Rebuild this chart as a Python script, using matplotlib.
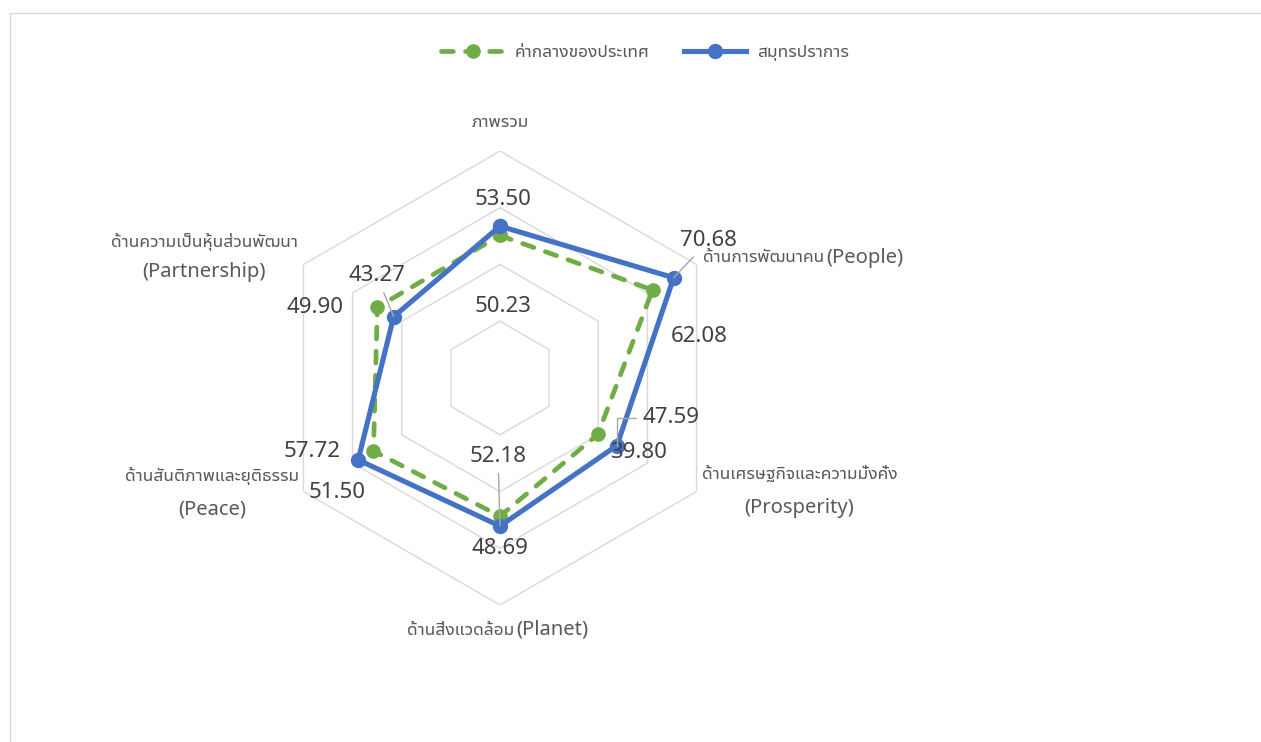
import numpy as np
import matplotlib
matplotlib.use('Agg')
import matplotlib.pyplot as plt
from matplotlib.patches import Rectangle

plt.rcParams['font.family'] = ['Noto Sans Thai UI', 'Noto Sans', 'DejaVu Sans']

# data
cat_thai = ['ภาพรวม', 'ด้านการพัฒนาคน', 'ด้านเศรษฐกิจและความมั่งคั่ง',
            'ด้านสิ่งแวดล้อม', 'ด้านสันติภาพและยุติธรรม', 'ด้านความเป็นหุ้นส่วนพัฒนา']
cat_eng = ['', '(People)', '(Prosperity)', '(Planet)', '(Peace)', '(Partnership)']
country_median = [50.23, 62.08, 39.80, 48.69, 51.50, 49.90]
samut_prakan = [53.50, 70.68, 47.59, 52.18, 57.72, 43.27]
series_names = ['ค่ากลางของประเทศ', 'สมุทรปราการ']
rings = [20, 40, 60, 80]

# label offsets in pixels (layout only)
green_off = [(3, -71), (47, -47), (41, -18), (0, -32), (-36, -41), (-62, 0)]
blue_off = [(3, 27), (35, 37), (54, 28), (-2, 70), (-46, 8), (-17, 41)]
leader_blue = [None, 'arc3', 'angle,angleA=0,angleB=90', 'arc3', None, 'arc3']
# (thai offset, eng offset, inline?)
cat_pos = [((0, 29), None, False),
           ((128, 7), (130, 7), True),
           ((103, 17), (103, -17), False),
           ((14, -25), (16, -25), True),
           ((-91, 16), (-91, -18), False),
           ((-99, 23), (-99, -7), False)]

GREEN = '#70AD47'
BLUE = '#4472C4'
GRID = '#D9D9D9'

W, H = 1261, 742
fig = plt.figure(figsize=(W / 100, H / 100), dpi=100)
fig.patches.append(Rectangle((10 / W, -0.1), 2, 1 - 13 / H + 0.1, transform=fig.transFigure,
                             fill=False, edgecolor=GRID, lw=1, clip_on=False))

cx, cy, R = 500, 378, 227
ax = fig.add_axes([(cx - R) / W, 1 - (cy + R) / H, 2 * R / W, 2 * R / H], projection='polar')
ax.set_theta_offset(np.pi / 2)
ax.set_theta_direction(-1)
ax.set_ylim(0, 80)
ax.grid(False)
ax.set_xticks([])
ax.set_yticks([])
ax.spines['polar'].set_visible(False)
ax.patch.set_alpha(0)

n = len(cat_thai)
ang = np.linspace(0, 2 * np.pi, n, endpoint=False)
ang_c = np.append(ang, ang[0])

for r in rings:
    ax.plot(ang_c, [r] * (n + 1), color=GRID, lw=1, zorder=1)

lg, = ax.plot(ang_c, country_median + country_median[:1], color=GREEN, lw=3.4,
              marker='o', ms=9.5, label=series_names[0], zorder=3,
              dash_capstyle='round')
lg.set_dashes([2.5, 2.6])
lb, = ax.plot(ang_c, samut_prakan + samut_prakan[:1], color=BLUE, lw=3.7,
              marker='o', ms=10, label=series_names[1], zorder=4)

for vals, offs, leads in [(country_median, green_off, [None] * n),
                          (samut_prakan, blue_off, leader_blue)]:
    for a, v, o, ld in zip(ang, vals, offs, leads):
        ap = None
        if ld:
            ap = dict(arrowstyle='-', color='#A6A6A6', lw=1, shrinkA=3, shrinkB=0,
                      connectionstyle=ld)
        ax.annotate(f'{v:.2f}', xy=(a, v), xytext=o, textcoords='offset pixels',
                    ha='center', va='center', fontsize=16, color='#404040',
                    family=['Noto Sans', 'DejaVu Sans'], zorder=5, arrowprops=ap)

for a, th, en, (o1, o2, inline) in zip(ang, cat_thai, cat_eng, cat_pos):
    ax.annotate(th, xy=(a, 80), xytext=o1, textcoords='offset pixels',
                ha='right' if inline else 'center', va='center', fontsize=12.5,
                color='#595959', annotation_clip=False)
    if en:
        ax.annotate(en, xy=(a, 80), xytext=o2, textcoords='offset pixels',
                    ha='left' if inline else 'center', va='center', fontsize=14.5,
                    color='#595959', family=['Noto Sans', 'DejaVu Sans'],
                    annotation_clip=False)

leg = fig.legend(handles=[lg, lb], loc='center', bbox_to_anchor=(645 / W, 1 - 52 / H),
                 ncol=2, frameon=False, handlelength=3.6, handletextpad=0.6,
                 columnspacing=2.0, prop={'size': 12.5})
for t in leg.get_texts():
    t.set_color('#595959')

fig.savefig('out.png', dpi=100)
